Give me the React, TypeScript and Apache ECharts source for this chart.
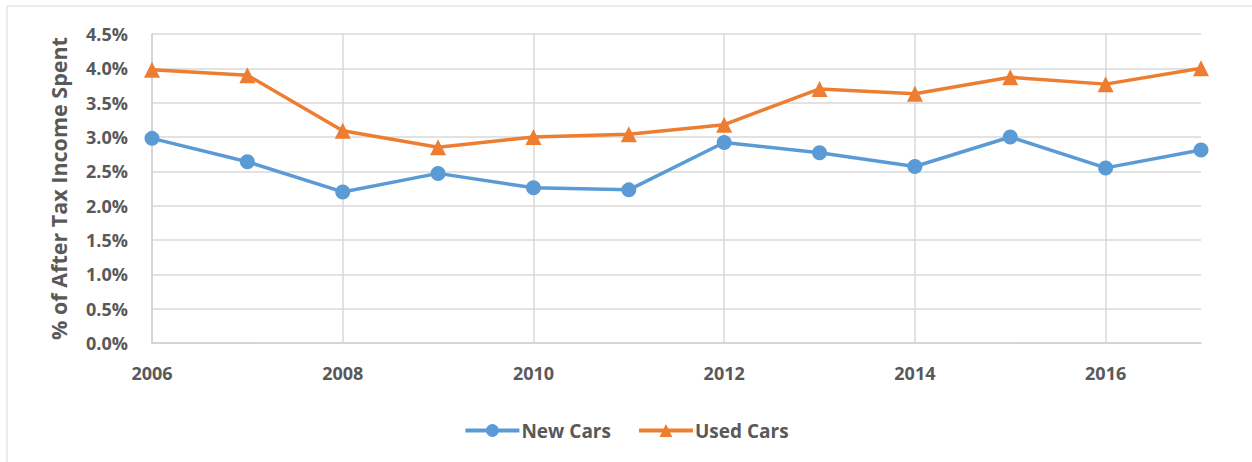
import React, { useEffect, useRef } from "react";
import * as echarts from "echarts";

const years = ["2006", "2007", "2008", "2009", "2010", "2011", "2012", "2013", "2014", "2015", "2016", "2017"];
const newCars = [2.98, 2.64, 2.2, 2.47, 2.26, 2.23, 2.92, 2.77, 2.57, 3.0, 2.55, 2.81];
const usedCars = [3.98, 3.9, 3.09, 2.85, 3.0, 3.04, 3.18, 3.7, 3.63, 3.87, 3.77, 4.0];
const yTicksMax = 4.5;
const yTickStep = 0.5;

const FONT = "'Open Sans', Lato, sans-serif";
const GRAY = "#595959";

export default function App() {
  const ref = useRef<HTMLDivElement>(null);
  useEffect(() => {
    document.body.style.margin = "0";
    const chart = echarts.init(ref.current!, null, { renderer: "svg" });
    chart.setOption({
      animation: false,
      backgroundColor: "#ffffff",
      grid: { left: 152, right: 51, top: 34, bottom: 119, containLabel: false },
      graphic: [
        {
          type: "rect",
          shape: { x: 7, y: 6, width: 1400, height: 600 },
          style: { fill: "none", stroke: "#D9D9D9", lineWidth: 1 },
          silent: true,
          z: -1,
        },
      ],
      legend: {
        top: 416,
        left: "center",
        itemWidth: 54,
        itemHeight: 16,
        itemGap: 26,
        lineStyle: { width: 4 },
        textStyle: { fontFamily: FONT, fontSize: 19, fontWeight: "bold", color: GRAY, padding: [0, 0, 0, -3] },
        data: ["New Cars", "Used Cars"],
      },
      xAxis: {
        type: "category",
        data: years,
        boundaryGap: false,
        axisLine: { show: true, lineStyle: { color: "#D0D0D0", width: 1.5 } },
        axisTick: { show: false },
        axisLabel: {
          interval: 1,
          margin: 21,
          fontFamily: FONT,
          fontSize: 18,
          fontWeight: "bold",
          color: GRAY,
        },
        splitLine: { show: true, interval: 1, lineStyle: { color: "#D9D9D9", width: 1.5 } },
      },
      yAxis: {
        type: "value",
        min: 0,
        max: yTicksMax,
        interval: yTickStep,
        name: "% of After Tax Income Spent",
        nameLocation: "middle",
        nameGap: 83,
        nameRotate: 90,
        nameTextStyle: { fontFamily: FONT, fontSize: 21.5, fontWeight: "bold", color: GRAY },
        axisLine: { show: true, lineStyle: { color: "#D0D0D0", width: 1.5 } },
        axisTick: { show: false },
        axisLabel: {
          margin: 24,
          fontFamily: FONT,
          fontSize: 18,
          fontWeight: "bold",
          color: GRAY,
          formatter: (v: number) => v.toFixed(1) + "%",
        },
        splitLine: { show: true, lineStyle: { color: "#D9D9D9", width: 1.5 } },
      },
      series: [
        {
          name: "New Cars",
          type: "line",
          data: newCars,
          symbol: "circle",
          symbolSize: 15,
          lineStyle: { color: "#5B9BD5", width: 3.5 },
          itemStyle: { color: "#5B9BD5" },
          z: 3,
        },
        {
          name: "Used Cars",
          type: "line",
          data: usedCars,
          symbol: "triangle",
          symbolSize: 16,
          lineStyle: { color: "#ED7D31", width: 3.5 },
          itemStyle: { color: "#ED7D31" },
          z: 3,
        },
      ],
    });
    return () => chart.dispose();
  }, []);
  return <div ref={ref} style={{ width: 1252, height: 462 }} />;
}
